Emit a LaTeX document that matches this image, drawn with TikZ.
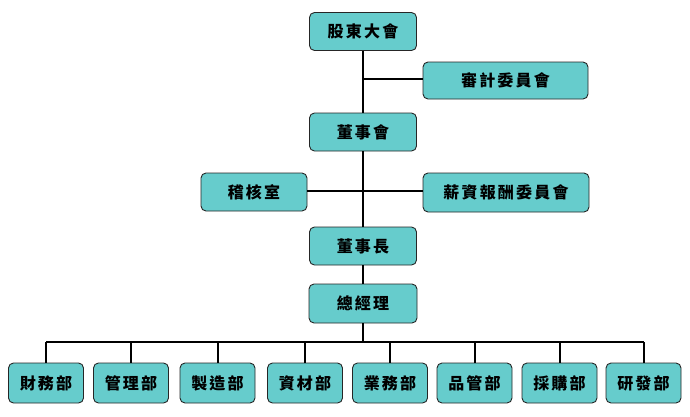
\documentclass[tikz,border=0pt]{standalone}
\usepackage{fontspec}
\setmainfont{Noto Sans CJK TC}[LetterSpace=14]
\definecolor{boxfill}{RGB}{102,204,204}
\begin{document}
\begin{tikzpicture}[x=1pt,y=-1pt,
  box/.style={draw=black!85,line width=0.9pt,fill=boxfill,rounded corners=5pt,
    minimum height=38pt,inner sep=0pt,font=\fontsize{16}{16}\selectfont\bfseries},
  link/.style={line width=2pt,black}]
\useasboundingbox (0,0) rectangle (690,416);
\node[box,minimum width=107pt] (gm) at (363,31.5) {股東大會};
\node[box,minimum width=165pt,minimum height=37pt] (audit) at (505.5,80.5) {審計委員會};
\node[box,minimum width=107pt] (board) at (363,132) {董事會};
\node[box,minimum width=106pt] (internal) at (254,192) {稽核室};
\node[box,minimum width=166pt,minimum height=39pt] (comp) at (506,192.5) {薪資報酬委員會};
\node[box,minimum width=107pt] (chair) at (363,246) {董事長};
\node[box,minimum width=108pt,minimum height=39pt] (ceo) at (363,303.5) {總經理};
\foreach \n/\x/\t in {d1/46/財務部,d2/131/管理部,d3/217.5/製造部,d4/305/資材部,d5/390/業務部,d6/474.5/品管部,d7/559.5/採購部,d8/643.5/研發部}{
  \node[box,minimum width=75pt,minimum height=40pt] (\n) at (\x,383) {\t};
}
\coordinate (j1) at (363,79);
\coordinate (j2) at (363,191);
\coordinate (bus) at (363,342);
\draw[link] (gm) -- (board);
\draw[link] (board) -- (chair);
\draw[link] (chair) -- (ceo);
\draw[link] (ceo) -- (bus);
\draw[link] (j1) -- (j1 -| audit.west);
\draw[link] (j2 -| internal.east) -- (j2 -| comp.west);
\draw[link] (d1.north |- bus) -- (d8.north |- bus);
\foreach \n in {d1,d2,d3,d4,d5,d6,d7,d8}{
  \draw[link] (\n.north |- bus) -- (\n.north);
}
\end{tikzpicture}
\end{document}
